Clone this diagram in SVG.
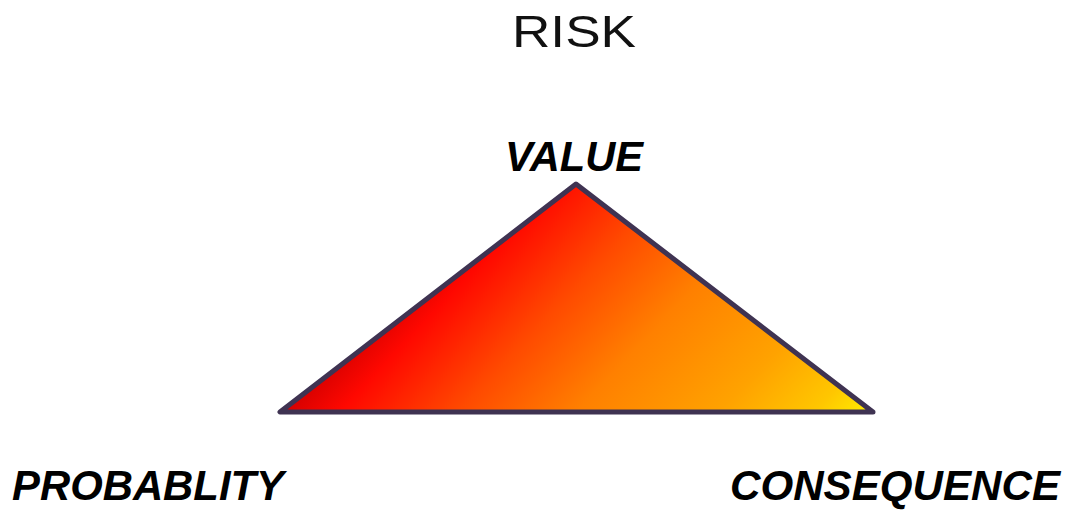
<svg xmlns="http://www.w3.org/2000/svg" width="1073" height="510" viewBox="0 0 1073 510">
<style>
.lbl{font-family:"Liberation Sans","DejaVu Sans",sans-serif;font-weight:bold;font-style:italic;font-size:42px;fill:#000}
.title{font-family:"Liberation Sans","DejaVu Sans",sans-serif;font-size:45px;fill:#111}
</style>
<defs>
<linearGradient id="g" gradientUnits="userSpaceOnUse" x1="280" y1="412" x2="592" y2="708">
<stop offset="0" stop-color="#d40000"/>
<stop offset="0.1" stop-color="#ff0800"/>
<stop offset="0.3" stop-color="#ff4a00"/>
<stop offset="0.5" stop-color="#ff8000"/>
<stop offset="0.74" stop-color="#ffa200"/>
<stop offset="0.9" stop-color="#ffc600"/>
<stop offset="1" stop-color="#ffee00"/>
</linearGradient>
</defs>
<rect width="1073" height="510" fill="#fff"/>
<g id="title"><text class="title" x="512" y="47" textLength="124" lengthAdjust="spacingAndGlyphs">RISK</text></g>
<g id="triangle"><polygon points="576,184 280,412 873,412" fill="url(#g)" stroke="#3f3352" stroke-width="5" stroke-linejoin="round"/></g>
<g id="value"><text class="lbl" x="505" y="171" font-size="44" textLength="138" lengthAdjust="spacingAndGlyphs">VALUE</text></g>
<g id="probability"><text class="lbl" x="12" y="500" textLength="272" lengthAdjust="spacingAndGlyphs">PROBABLITY</text></g>
<g id="consequence"><text class="lbl" x="730" y="500" textLength="330" lengthAdjust="spacingAndGlyphs">CONSEQUENCE</text></g>
<g id="connectors"></g>
</svg>
